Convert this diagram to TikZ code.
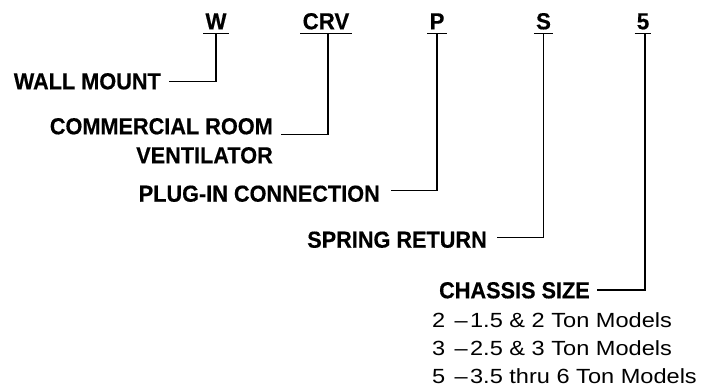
\documentclass[tikz,border=0pt]{standalone}
\usepackage{fontspec}
\setmainfont{Liberation Sans}
\newfontfamily\labfont[FakeStretch=0.935,FakeBold=0.4]{Liberation Sans}
\newfontfamily\codefont[FakeStretch=0.96,FakeBold=0.4]{Liberation Sans}
\newfontfamily\regfont[FakeStretch=1.15]{Liberation Sans}
\begin{document}
\begin{tikzpicture}[x=1pt,y=-1pt,
  code/.style={font=\codefont\bfseries\fontsize{23.2}{27}\selectfont, inner sep=0pt, anchor=base},
  lab/.style={font=\labfont\bfseries\fontsize{23.2}{27}\selectfont, inner sep=0pt, anchor=base east},
  reg/.style={font=\regfont\fontsize{20.5}{24}\selectfont, inner sep=0pt, anchor=base west},
  uline/.style={line width=1.6pt},
  conn/.style={line width=1.1pt}]
\useasboundingbox (0,0) rectangle (701,389);
% codes
\node[code] (cW) at (216,29.3) {W};
\node[code] (cCRV) at (326,29.3) {CRV};
\node[code] (cP) at (437,29.3) {P};
\node[code] (cS) at (543.5,29.3) {S};
\node[code] (c5) at (643,29.3) {5};
\foreach \n in {cW,cCRV,cP,cS,c5}{
  \draw[uline] ([xshift=-2pt,yshift=-4pt]\n.base west) -- ([xshift=2pt,yshift=-4pt]\n.base east);
  \coordinate (u\n) at ([yshift=-4pt]\n.base);
}
% labels
\node[lab] (lW) at (161,89.3) {WALL MOUNT};
\node[lab] (lCRVa) at (273,134.3) {COMMERCIAL ROOM};
\node[lab] (lCRVb) at (273,163.3) {VENTILATOR};
\node[lab] (lP) at (380,201.7) {PLUG-IN CONNECTION};
\node[lab] (lS) at (487,247.7) {SPRING RETURN};
\node[lab] (lC) at (590,298.3) {CHASSIS SIZE};
\node[reg] (r2) at (432,327.3) {2\hspace{0.45em}–\hspace{0.12em}1.5 \& 2 Ton Models};
\node[reg] (r3) at (432,355.5) {3\hspace{0.45em}–\hspace{0.12em}2.5 \& 3 Ton Models};
\node[reg] (r5) at (432,383.5) {5\hspace{0.45em}–\hspace{0.12em}3.5 thru 6 Ton Models};
% connector ends
\coordinate (eW) at ([xshift=8pt,yshift=7.6pt]lW.base east);
\coordinate (eCRV) at ([xshift=8pt,yshift=0pt]lCRVa.base east);
\coordinate (eP) at ([xshift=11pt,yshift=11.5pt]lP.base east);
\coordinate (eS) at ([xshift=10pt,yshift=10pt]lS.base east);
\coordinate (eC) at ([xshift=7pt,yshift=8.3pt]lC.base east);
% connectors
\draw[conn] (ucW) |- (eW);
\draw[conn] ([xshift=2pt]ucCRV) |- (eCRV);
\draw[conn] (ucP) |- (eP);
\draw[conn] (ucS) |- (eS);
\draw[conn] ([xshift=2pt]uc5) |- (eC);
\end{tikzpicture}
\end{document}
